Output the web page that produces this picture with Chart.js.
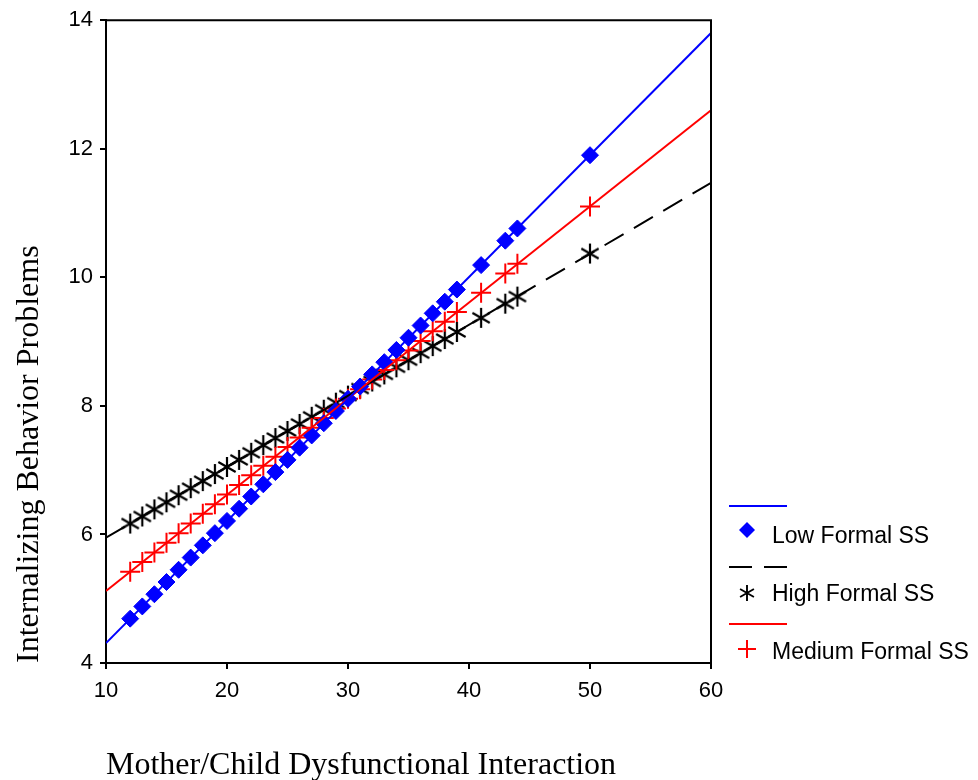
<!DOCTYPE html>
<html><head><meta charset="utf-8">
<script src="https://cdn.jsdelivr.net/npm/chart.js@4.4.1/dist/chart.umd.min.js"></script>
<style>html,body{margin:0;padding:0;background:#fff;}canvas{display:block;}</style>
</head><body>
<canvas id="c" width="978" height="780"></canvas>
<script>
// ---- data ----
const xValues = [12,13,14,15,16,17,18,19,20,21,22,23,24,25,26,27,28,29,30,31,32,33,34,35,36,37,38,39,41,43,44,50];
const lowY  = [4.69,4.88,5.07,5.26,5.45,5.64,5.83,6.02,6.21,6.40,6.59,6.78,6.97,7.16,7.35,7.54,7.73,7.92,8.11,8.30,8.49,8.68,8.87,9.06,9.25,9.44,9.62,9.81,10.19,10.57,10.76,11.90];
const highY = [6.17,6.28,6.39,6.50,6.61,6.72,6.83,6.94,7.05,7.16,7.27,7.39,7.50,7.61,7.72,7.83,7.94,8.05,8.16,8.27,8.38,8.49,8.60,8.71,8.82,8.93,9.04,9.15,9.37,9.59,9.70,10.37];
const medY  = [5.42,5.57,5.72,5.87,6.02,6.17,6.32,6.47,6.62,6.77,6.92,7.07,7.21,7.36,7.51,7.66,7.81,7.96,8.11,8.26,8.41,8.56,8.71,8.86,9.01,9.16,9.31,9.46,9.76,10.06,10.21,11.10];
const lineX     = [10, 60];
const lowLineY  = [4.31, 13.80];
const highLineY = [5.95, 11.47];
const medLineY  = [5.12, 12.60];
const xTicks = [10,20,30,40,50,60];
const yTicks = [4,6,8,10,12,14];
const seriesNames = ['Low Formal SS','High Formal SS','Medium Formal SS'];
const xTitle = 'Mother/Child Dysfunctional Interaction';
const yTitle = 'Internalizing Behavior Problems';

const SANS = '"Liberation Sans", Arial, sans-serif';
const SERIF = '"Liberation Serif", "Times New Roman", serif';
const BLUE = '#0000ff', RED = '#ff0000', BLACK = '#000000';

function pts(xs, ys){ return xs.map((x,i)=>({x:x, y:ys[i]})); }

function makeAsterisk(size, lw){
  const c = document.createElement('canvas');
  c.width = size; c.height = size;
  const g = c.getContext('2d');
  g.strokeStyle = BLACK; g.lineWidth = lw;
  const m = size/2, r = size/2 - 1;
  g.beginPath();
  for (let k=0;k<3;k++){
    const a = Math.PI/2 + k*Math.PI/3;
    g.moveTo(m - r*Math.cos(a), m - r*Math.sin(a));
    g.lineTo(m + r*Math.cos(a), m + r*Math.sin(a));
  }
  g.stroke();
  return c;
}
const starImg = makeAsterisk(22, 2.2);
const starLegend = makeAsterisk(18, 1.9);

const decor = {
  id: 'decor',
  afterDraw(chart){
    const ctx = chart.ctx, a = chart.chartArea;
    ctx.save();
    // frame top & right
    ctx.strokeStyle = BLACK; ctx.lineWidth = 2;
    ctx.beginPath();
    ctx.moveTo(a.left - 1, a.top); ctx.lineTo(a.right, a.top); ctx.lineTo(a.right, a.bottom);
    ctx.stroke();
    // legend
    const lx0 = 729, lx1 = 787, mx = 747, tx = 772;
    ctx.font = '23px ' + SANS; ctx.textBaseline = 'middle'; ctx.textAlign = 'left'; ctx.fillStyle = BLACK;
    // Low
    ctx.strokeStyle = BLUE; ctx.lineWidth = 2; ctx.setLineDash([]);
    ctx.beginPath(); ctx.moveTo(lx0, 506); ctx.lineTo(lx1, 506); ctx.stroke();
    ctx.fillStyle = BLUE;
    ctx.beginPath(); ctx.moveTo(mx-8, 530); ctx.lineTo(mx, 522); ctx.lineTo(mx+8, 530); ctx.lineTo(mx, 538); ctx.closePath(); ctx.fill();
    ctx.fillStyle = BLACK; ctx.fillText(seriesNames[0], tx, 537);
    // High
    ctx.strokeStyle = BLACK; ctx.setLineDash([23, 12]);
    ctx.beginPath(); ctx.moveTo(lx0, 567); ctx.lineTo(lx1, 567); ctx.stroke();
    ctx.setLineDash([]);
    ctx.drawImage(starLegend, mx - starLegend.width/2, 593 - starLegend.height/2);
    ctx.fillText(seriesNames[1], tx, 595);
    // Medium
    ctx.strokeStyle = RED;
    ctx.beginPath(); ctx.moveTo(lx0, 624); ctx.lineTo(lx1, 624); ctx.stroke();
    ctx.beginPath(); ctx.moveTo(mx-9, 649); ctx.lineTo(mx+9, 649); ctx.moveTo(mx, 640); ctx.lineTo(mx, 658); ctx.stroke();
    ctx.fillStyle = BLACK; ctx.fillText(seriesNames[2], tx, 653);
    ctx.restore();
  }
};

const tickFont = {family: SANS, size: 22};
new Chart(document.getElementById('c'), {
  type: 'scatter',
  data: {
    datasets: [
      {data: pts(lineX, lowLineY), showLine: true, borderColor: BLUE, borderWidth: 2, pointRadius: 0, fill: false},
      {data: pts(lineX, medLineY), showLine: true, borderColor: RED, borderWidth: 2, pointRadius: 0, fill: false},
      {data: pts(lineX, highLineY), showLine: true, borderColor: BLACK, borderWidth: 2, borderDash: [22, 12], pointRadius: 0, fill: false},
      {label: seriesNames[0], data: pts(xValues, lowY), showLine: false, pointStyle: 'rectRot', pointRadius: 8.5, backgroundColor: BLUE, borderColor: BLUE, borderWidth: 1},
      {label: seriesNames[2], data: pts(xValues, medY), showLine: false, pointStyle: 'cross', pointRadius: 10, borderColor: RED, backgroundColor: RED, borderWidth: 2},
      {label: seriesNames[1], data: pts(xValues, highY), showLine: false, pointStyle: starImg, pointRadius: 11, borderColor: BLACK, backgroundColor: BLACK}
    ]
  },
  options: {
    responsive: false, animation: false, devicePixelRatio: 1,
    layout: {padding: {top: 18, right: 267, bottom: 0, left: 0}},
    plugins: {legend: {display: false}, tooltip: {enabled: false}},
    scales: {
      x: {
        type: 'linear', position: 'bottom', min: 10, max: 60,
        afterBuildTicks: s => { s.ticks = xTicks.map(v => ({value: v})); },
        afterFit: s => { s.height = 117; },
        ticks: {color: BLACK, font: tickFont, padding: 9, maxRotation: 0, autoSkip: false},
        grid: {display: true, drawOnChartArea: false, drawTicks: true, tickLength: 6, color: BLACK, lineWidth: 2},
        border: {display: true, color: BLACK, width: 2},
        title: {display: true, text: xTitle, align: 'start', color: BLACK, font: {family: SERIF, size: 32, lineHeight: 0.875}, padding: {top: 0, bottom: 0}}
      },
      y: {
        type: 'linear', position: 'left', min: 4, max: 14,
        afterBuildTicks: s => { s.ticks = yTicks.map(v => ({value: v})); },
        afterFit: s => { s.width = 106; },
        ticks: {color: BLACK, font: tickFont, padding: 7, autoSkip: false},
        grid: {display: true, drawOnChartArea: false, drawTicks: true, tickLength: 6, color: BLACK, lineWidth: 2},
        border: {display: true, color: BLACK, width: 2},
        title: {display: true, text: yTitle, align: 'start', color: BLACK, font: {family: SERIF, size: 32, lineHeight: 1}, padding: {top: 14, bottom: 0}}
      }
    }
  },
  plugins: [decor]
});
</script>
</body></html>
